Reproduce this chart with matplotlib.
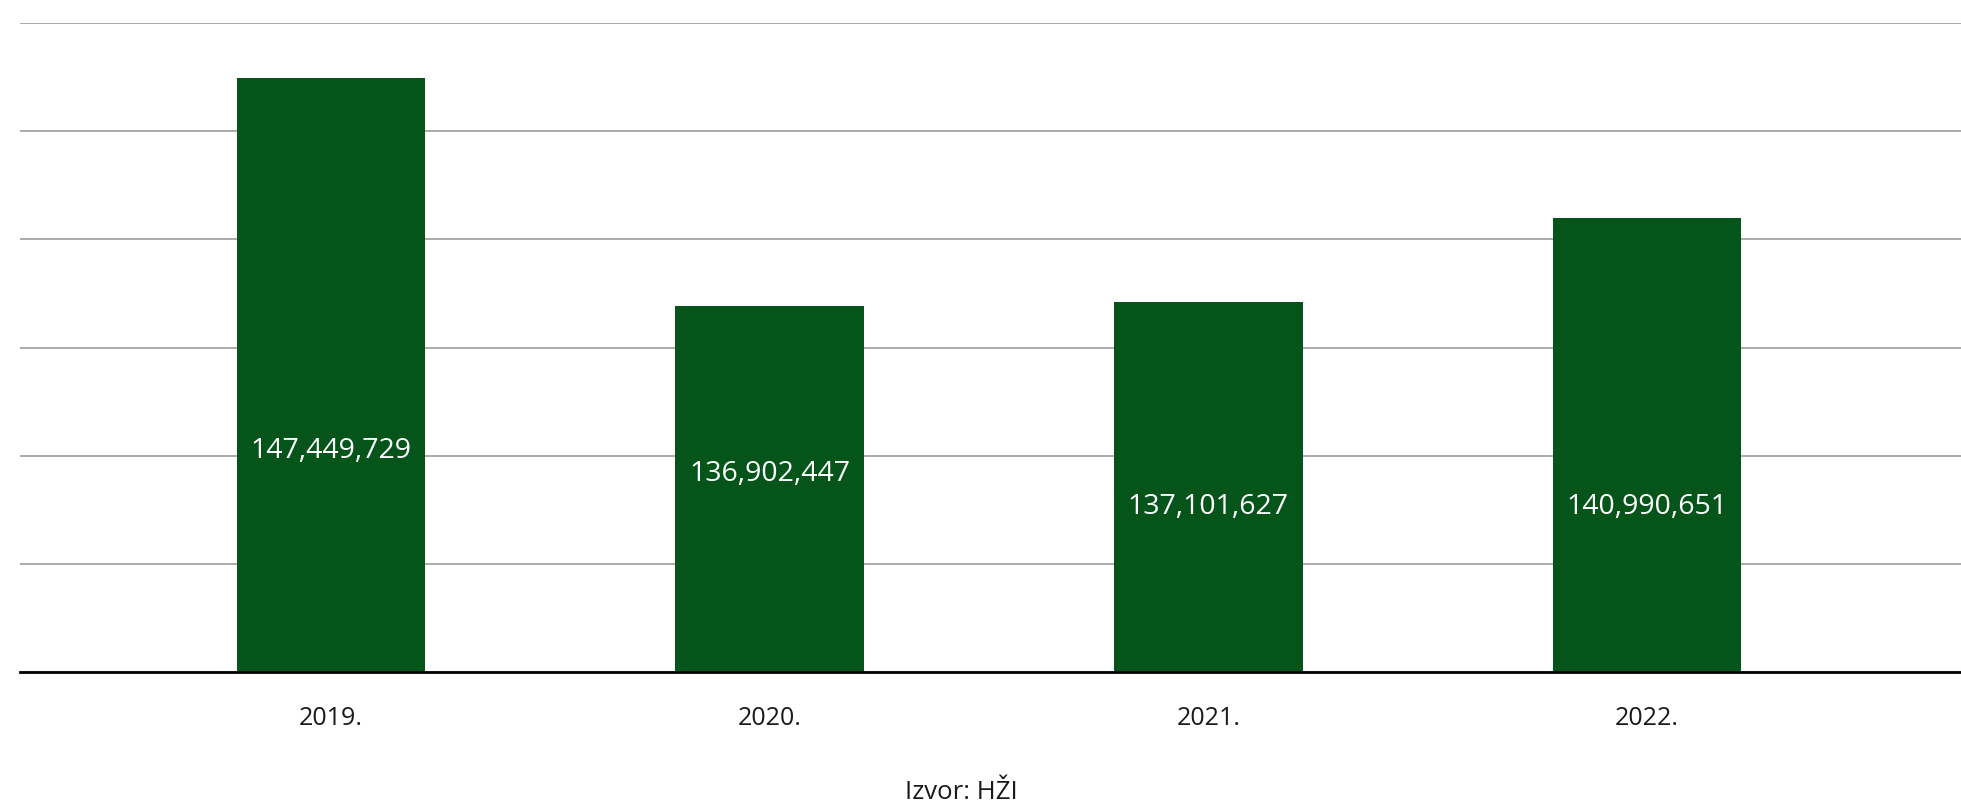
import matplotlib.pyplot as plt
from matplotlib.ticker import MultipleLocator

# data
years = ["2019.", "2020.", "2021.", "2022."]
values = [147449729, 136902447, 137101627, 140990651]
# where the value labels sit inside the bars (millions)
label_pos = [130.25, 129.2, 127.65, 127.65]

plt.rcParams['font.family'] = ['Open Sans', 'DejaVu Sans']

fig = plt.figure(figsize=(19.61, 8.04), dpi=100)
ax = fig.add_axes([0.0102, 0.163, 0.9898, 0.807])

x = range(len(years))
vals_m = [v / 1e6 for v in values]
ax.bar(x, vals_m, width=0.43, color="#05541a", zorder=3)

for i, v in enumerate(values):
    ax.text(i, label_pos[i], "{:,}".format(v), color="white", fontsize=20.5,
            ha="center", va="center", zorder=4)

ax.set_ylim(120, 150)
ax.set_xlim(-0.709, 3.716)
ax.yaxis.set_major_locator(MultipleLocator(5))
ax.grid(axis="y", color="#aaaaaa", linewidth=1.4, zorder=0)
ax.set_yticklabels([])
ax.tick_params(axis="y", length=0)
ax.set_xticks(list(x))
ax.set_xticklabels(years, fontsize=18, color="#1a1a1a")
ax.tick_params(axis="x", length=0, pad=24)

for s in ["top", "right", "left"]:
    ax.spines[s].set_visible(False)
ax.spines["bottom"].set_color("black")
ax.spines["bottom"].set_linewidth(2)
ax.spines["bottom"].set_zorder(5)

fig.text(0.49, 1 - 793 / 804, "Izvor: HŽI", fontsize=18.5, color="#1a1a1a",
         ha="center", va="center")

fig.savefig("out.png", dpi=100)
